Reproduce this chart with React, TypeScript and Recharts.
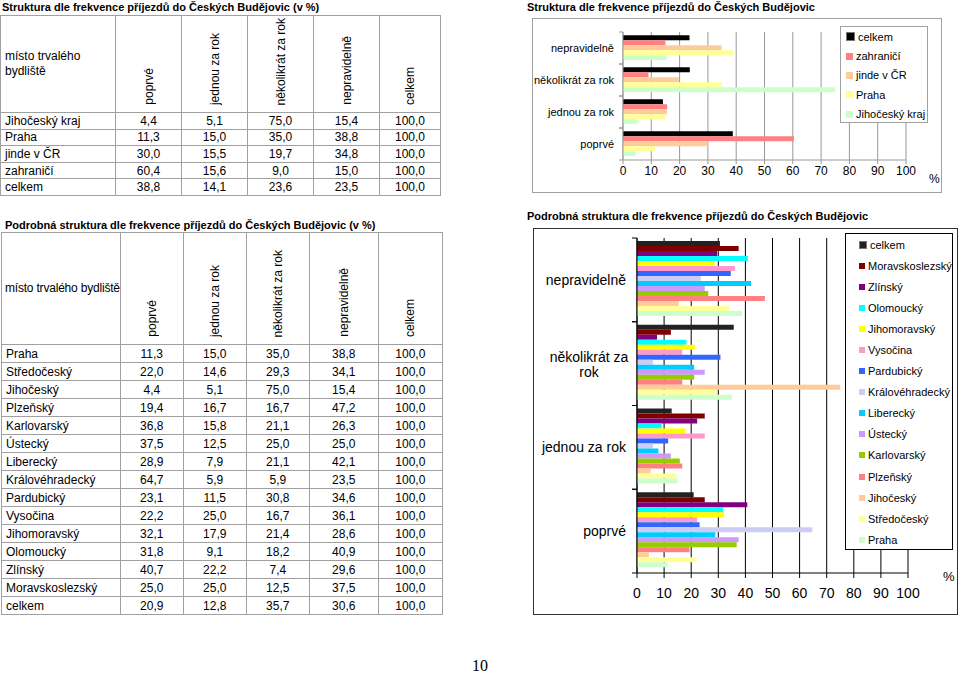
import React from 'react';
import { BarChart, Bar, XAxis, YAxis, CartesianGrid, Legend } from 'recharts';

// column headers (frequency of visits)
const freqLabels = ['poprvé', 'jednou za rok', 'několikrát za rok', 'nepravidelně', 'celkem'];

// --- summary table / top chart ---
const topRegions = ['Jihočeský kraj', 'Praha', 'jinde v ČR', 'zahraničí', 'celkem'];
const topPoprve = [4.4, 11.3, 30.0, 60.4, 38.8];
const topJednou = [5.1, 15.0, 15.5, 15.6, 14.1];
const topNekolikrat = [75.0, 35.0, 19.7, 9.0, 23.6];
const topNepravidelne = [15.4, 38.8, 34.8, 15.0, 23.5];
const topCelkem = [100.0, 100.0, 100.0, 100.0, 100.0];
const topColors = ['#ccffcc', '#ffff99', '#ffcc99', '#ff8080', '#000000'];

// --- detailed table / bottom chart ---
const regions = ['Praha', 'Středočeský', 'Jihočeský', 'Plzeňský', 'Karlovarský', 'Ústecký', 'Liberecký',
  'Královéhradecký', 'Pardubický', 'Vysočina', 'Jihomoravský', 'Olomoucký', 'Zlínský', 'Moravskoslezský', 'celkem'];
const poprve = [11.3, 22.0, 4.4, 19.4, 36.8, 37.5, 28.9, 64.7, 23.1, 22.2, 32.1, 31.8, 40.7, 25.0, 20.9];
const jednou = [15.0, 14.6, 5.1, 16.7, 15.8, 12.5, 7.9, 5.9, 11.5, 25.0, 17.9, 9.1, 22.2, 25.0, 12.8];
const nekolikrat = [35.0, 29.3, 75.0, 16.7, 21.1, 25.0, 21.1, 5.9, 30.8, 16.7, 21.4, 18.2, 7.4, 12.5, 35.7];
const nepravidelne = [38.8, 34.1, 15.4, 47.2, 26.3, 25.0, 42.1, 23.5, 34.6, 36.1, 28.6, 40.9, 29.6, 37.5, 30.6];
const celkem = [100.0, 100.0, 100.0, 100.0, 100.0, 100.0, 100.0, 100.0, 100.0, 100.0, 100.0, 100.0, 100.0, 100.0, 100.0];
const regionColors = ['#ccffcc', '#ffff99', '#ffcc99', '#ff8080', '#99cc00', '#cc99ff', '#00ccff',
  '#ccccf5', '#3366ff', '#ff99cc', '#ffff00', '#00ffff', '#800080', '#800000', '#222222'];

const xTicks = [0, 10, 20, 30, 40, 50, 60, 70, 80, 90, 100];

const FONT = '"Liberation Sans", Arial, sans-serif';
const fmt = (v: number) => v.toFixed(1).replace('.', ',');

// chart rows go top->bottom: nepravidelně ... poprvé
const chartOrder = [3, 2, 1, 0];

const buildData = (names: string[], cols: number[][]) =>
  chartOrder.map((f) => {
    const row: any = { freq: freqLabels[f] };
    names.forEach((n, i) => { row[n] = cols[f][i]; });
    return row;
  });

const topData = buildData(topRegions, [topPoprve, topJednou, topNekolikrat, topNepravidelne]);
const detailData = buildData(regions, [poprve, jednou, nekolikrat, nepravidelne]);

const titleStyle: React.CSSProperties = {
  position: 'absolute', fontSize: 11, fontWeight: 'bold', whiteSpace: 'nowrap', lineHeight: '13px',
};

const DataTable = ({ left, top, colWidths, headerH, rowH, rowLabels, cols, headerNowrap }: any) => {
  const cell: React.CSSProperties = { border: '1px solid #a0a0a0', padding: 0, fontSize: 12 };
  return (
    <table style={{ position: 'absolute', left, top, borderCollapse: 'collapse', tableLayout: 'fixed', fontFamily: FONT }}>
      <colgroup>
        {colWidths.map((w: number, i: number) => <col key={i} style={{ width: w }} />)}
      </colgroup>
      <tbody>
        <tr style={{ height: headerH }}>
          <td style={{ ...cell, verticalAlign: 'middle', paddingLeft: headerNowrap ? 3 : 4, letterSpacing: headerNowrap ? -0.2 : 0, whiteSpace: headerNowrap ? 'nowrap' : 'normal', lineHeight: '15px', overflow: 'hidden' }}>
            místo trvalého bydliště
          </td>
          {freqLabels.map((f) => (
            <td key={f} style={{ ...cell, verticalAlign: 'bottom', textAlign: 'center', paddingBottom: 4 }}>
              <span style={{ display: 'inline-block', writingMode: 'vertical-rl', transform: 'rotate(180deg)', whiteSpace: 'nowrap' }}>{f}</span>
            </td>
          ))}
        </tr>
        {rowLabels.map((r: string, i: number) => (
          <tr key={r} style={{ height: rowH }}>
            <td style={{ ...cell, paddingLeft: 4 }}>{r}</td>
            {cols.map((c: number[], j: number) => (
              <td key={j} style={{ ...cell, textAlign: 'center' }}>{fmt(c[i])}</td>
            ))}
          </tr>
        ))}
      </tbody>
    </table>
  );
};

// legend box; keeps the series declaration order
const LegendBox = ({ payload, order, width, height, itemH, padL, iconSize, border }: any) => {
  const items = [...(payload || [])].sort((a: any, b: any) => order.indexOf(a.value) - order.indexOf(b.value));
  return (
    <div style={{ width, height, border: `1px solid ${border}`, background: '#fff', boxSizing: 'border-box', fontFamily: FONT, fontSize: 11 }}>
      {items.map((p: any) => (
        <div key={p.value} style={{ height: itemH, display: 'flex', alignItems: 'center', paddingLeft: padL, whiteSpace: 'nowrap' }}>
          <span style={{ display: 'inline-block', width: iconSize, height: iconSize, background: p.color, border: p.value === 'celkem' ? '1px solid #777' : 'none', marginRight: 3 }} />
          <span>{p.value}</span>
        </div>
      ))}
    </div>
  );
};

// category label plus tick marks at the band boundaries
const makeCatTick = (fontSize: number, tickLen: number, margin: number, color: string, wrapShift: number) => (props: any) => {
  const { x, y, payload } = props;
  const off = payload.offset || 0;
  const ax = x + margin;
  const v: string = payload.value;
  let label;
  if (wrapShift && v === 'několikrát za rok') {
    label = (
      <text fontSize={fontSize} fontFamily={FONT} fill="#000">
        <tspan x={x - wrapShift} y={y - 7} textAnchor="middle" dominantBaseline="central">několikrát za</tspan>
        <tspan x={x - wrapShift} y={y + 8} textAnchor="middle" dominantBaseline="central">rok</tspan>
      </text>
    );
  } else {
    label = <text x={x} y={y} textAnchor="end" dominantBaseline="central" fontSize={fontSize} fontFamily={FONT} fill="#000">{v}</text>;
  }
  return (
    <g>
      <line x1={ax - tickLen} x2={ax} y1={y - off} y2={y - off} stroke={color} />
      <line x1={ax - tickLen} x2={ax} y1={y + off} y2={y + off} stroke={color} />
      {label}
    </g>
  );
};

const TopTick = makeCatTick(11, 4, 9, '#999', 0);
const DetailTick = makeCatTick(14, 5, 11, '#000', 37);

export default function App() {
  const topSeries = [...topRegions].reverse();
  const topSeriesColors = [...topColors].reverse();
  const detailSeries = [...regions].reverse();
  const detailSeriesColors = [...regionColors].reverse();

  return (
    <div style={{ position: 'absolute', left: 0, top: 0, width: 960, height: 676, background: '#fff', fontFamily: FONT, color: '#000', overflow: 'hidden' }}>
      {/* tables */}
      <div style={{ ...titleStyle, left: 2, top: 1 }}>Struktura dle frekvence příjezdů do Českých Budějovic (v %)</div>
      <DataTable left={0} top={15} colWidths={[115, 66, 66, 66, 66, 61]} headerH={97} rowH={16.6}
        rowLabels={topRegions} cols={[topPoprve, topJednou, topNekolikrat, topNepravidelne, topCelkem]} />

      <div style={{ ...titleStyle, left: 5, top: 219 }}>Podrobná struktura dle frekvence příjezdů do Českých Budějovic (v %)</div>
      <DataTable left={1} top={232} colWidths={[117, 63, 63, 63, 69, 64]} headerH={112} rowH={18} headerNowrap
        rowLabels={regions} cols={[poprve, jednou, nekolikrat, nepravidelne, celkem]} />

      {/* top chart */}
      <div style={{ ...titleStyle, left: 527, top: 1 }}>Struktura dle frekvence příjezdů do Českých Budějovic</div>
      <div style={{ position: 'absolute', left: 532, top: 18, width: 410, height: 175, border: '1px solid #a0a0a0', boxSizing: 'border-box' }}>
        <BarChart width={408} height={173} data={topData} layout="vertical" barCategoryGap="10%" barGap={0}
          margin={{ top: 13, right: 35, left: 0, bottom: 0 }}>
          <CartesianGrid horizontal={false} stroke="#999" />
          <XAxis type="number" domain={[0, 100]} ticks={xTicks} height={32} interval={0}
            tick={{ fontSize: 12, fill: '#000', fontFamily: FONT }} stroke="#999" tickSize={4} />
          <YAxis type="category" dataKey="freq" width={90} tickLine={false} tickSize={0} tickMargin={9}
            tick={TopTick} stroke="#999" interval={0} />
          {topSeries.map((s, i) => (
            <Bar key={s} dataKey={s} name={s} fill={topSeriesColors[i]} isAnimationActive={false} />
          ))}
          <Legend layout="vertical" align="center" verticalAlign="middle"
            wrapperStyle={{ left: 307, top: 7, width: 88, height: 97 }}
            content={(p: any) => <LegendBox payload={p.payload} order={topSeries} width={88} height={97} itemH={19.4} padL={5} iconSize={7} border="#a0a0a0" />} />
        </BarChart>
      </div>
      <div style={{ position: 'absolute', left: 929, top: 172, fontSize: 12 }}>%</div>

      {/* bottom chart */}
      <div style={{ ...titleStyle, left: 527, top: 210 }}>Podrobná struktura dle frekvence příjezdů do Českých Budějovic</div>
      <div style={{ position: 'absolute', left: 533, top: 228, width: 425, height: 387, border: '1px solid #333', boxSizing: 'border-box' }}>
        <BarChart width={423} height={385} data={detailData} layout="vertical" barCategoryGap={3} barGap={0}
          margin={{ top: 9, right: 49, left: 0, bottom: 0 }}>
          <CartesianGrid horizontal={false} stroke="#000" />
          <XAxis type="number" domain={[0, 100]} ticks={xTicks} height={41} interval={0} tickMargin={10}
            tick={{ fontSize: 14, fill: '#000', fontFamily: FONT }} stroke="#000" tickSize={5} />
          <YAxis type="category" dataKey="freq" width={103} tickLine={false} tickSize={0} tickMargin={11}
            tick={DetailTick} stroke="#000" interval={0} />
          {detailSeries.map((s, i) => (
            <Bar key={s} dataKey={s} name={s} fill={detailSeriesColors[i]} isAnimationActive={false} />
          ))}
          <Legend layout="vertical" align="center" verticalAlign="middle"
            wrapperStyle={{ left: 311, top: 4, width: 108, height: 317 }}
            content={(p: any) => <LegendBox payload={p.payload} order={detailSeries} width={108} height={317} itemH={21.1} padL={13} iconSize={6} border="#000" />} />
        </BarChart>
      </div>
      <div style={{ position: 'absolute', left: 943, top: 569, fontSize: 13 }}>%</div>

      <div style={{ position: 'absolute', left: 472, top: 657, fontSize: 16, fontFamily: '"Liberation Serif", "Times New Roman", serif' }}>10</div>
    </div>
  );
}
